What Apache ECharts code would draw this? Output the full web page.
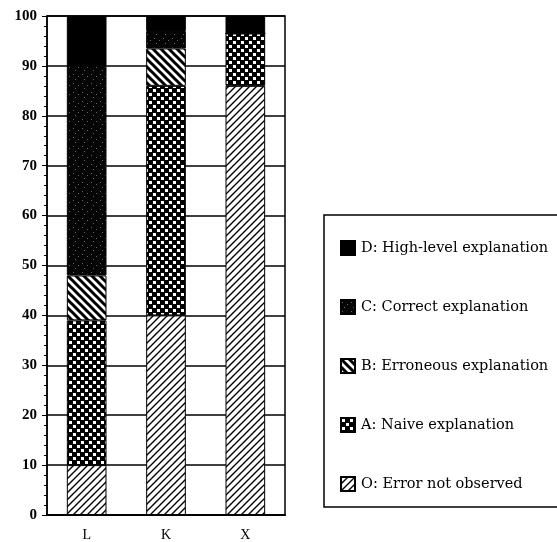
<!DOCTYPE html>
<html>
<head>
<meta charset="utf-8">
<script src="https://cdn.jsdelivr.net/npm/echarts@6/dist/echarts.min.js"></script>
<style>
  html, body { margin: 0; padding: 0; background: #fff; }
  #main { width: 557px; height: 542px; }
</style>
</head>
<body>
<div id="main"></div>
<script>
// categorias y porcentajes
var categories = ['L', 'K', 'X'];
var errNotObserved = [10, 40, 86];
var naive = [29, 46, 10.5];
var erroneous = [9, 7.5, 0];
var correct = [42, 3.5, 0];
var highLevel = [10, 3, 3.5];

var myChart = echarts.init(document.getElementById('main'));

// tramas en blanco y negro
function tile(size, draw) {
  var c = document.createElement('canvas');
  c.width = size;
  c.height = size;
  var ctx = c.getContext('2d');
  draw(ctx, size);
  return { image: c, repeat: 'repeat' };
}

var patO = tile(7, function (ctx, s) {
  ctx.fillStyle = '#fff';
  ctx.fillRect(0, 0, s, s);
  ctx.strokeStyle = '#000';
  ctx.lineWidth = 1.4;
  ctx.beginPath();
  ctx.moveTo(-1, s + 1); ctx.lineTo(s + 1, -1);
  ctx.moveTo(-1, 1); ctx.lineTo(1, -1);
  ctx.moveTo(s - 1, s + 1); ctx.lineTo(s + 1, s - 1);
  ctx.stroke();
});

var patA = tile(8, function (ctx, s) {
  ctx.fillStyle = '#000';
  ctx.fillRect(0, 0, s, s);
  ctx.fillStyle = '#fff';
  ctx.fillRect(1, 1, 3, 3);
  ctx.fillRect(5, 5, 3, 3);
});

var patB = tile(8, function (ctx, s) {
  ctx.fillStyle = '#fff';
  ctx.fillRect(0, 0, s, s);
  ctx.strokeStyle = '#000';
  ctx.lineWidth = 3;
  ctx.beginPath();
  ctx.moveTo(-1, -1); ctx.lineTo(s + 1, s + 1);
  ctx.moveTo(-2, s - 2); ctx.lineTo(2, s + 2);
  ctx.moveTo(s - 2, -2); ctx.lineTo(s + 2, 2);
  ctx.stroke();
});

var patC = tile(9, function (ctx, s) {
  ctx.fillStyle = '#050505';
  ctx.fillRect(0, 0, s, s);
  ctx.fillStyle = '#666';
  ctx.fillRect(1, 2, 1, 1);
  ctx.fillRect(6, 4, 1, 1);
  ctx.fillRect(3, 7, 1, 1);
});

var font = '"Liberation Serif", "DejaVu Serif", serif';
var legendFont = '"DejaVu Serif", "Liberation Serif", serif';

function serie(name, data, color) {
  return {
    name: name,
    type: 'bar',
    stack: 'total',
    barWidth: '50%',
    data: data,
    itemStyle: {
      color: color,
      borderColor: '#000',
      borderWidth: 1
    }
  };
}

var option = {
  backgroundColor: '#fff',
  animation: false,
  grid: {
    left: 47,
    right: 272,
    top: 16,
    bottom: 21,
    show: true,
    borderColor: '#000',
    borderWidth: 1.5,
    backgroundColor: '#fff'
  },
  legend: {
    orient: 'vertical',
    left: 324,
    top: 215,
    padding: [25, 40, 15, 16],
    itemGap: 43,
    itemWidth: 14,
    itemHeight: 14,
    borderColor: '#000',
    borderWidth: 1.5,
    icon: 'rect',
    textStyle: { fontFamily: legendFont, fontSize: 14.5, color: '#000', padding: [0, 0, 0, 1] },
    data: [
      'D: High-level explanation',
      'C: Correct explanation',
      'B: Erroneous explanation',
      'A: Naive explanation',
      'O: Error not observed'
    ]
  },
  xAxis: {
    type: 'category',
    data: categories,
    axisLine: { lineStyle: { color: '#000', width: 2 } },
    axisTick: { show: false },
    axisLabel: { fontFamily: font, fontSize: 14, color: '#000', margin: 13 }
  },
  yAxis: {
    type: 'value',
    min: 0,
    max: 100,
    interval: 10,
    axisLine: { show: true, lineStyle: { color: '#000', width: 1.5 } },
    axisTick: { show: true, length: 5, lineStyle: { color: '#000' } },
    minorTick: { show: true, splitNumber: 5, length: 3, lineStyle: { color: '#000' } },
    splitLine: { show: true, lineStyle: { color: '#000', width: 1.5 } },
    axisLabel: { fontFamily: font, fontSize: 15, fontWeight: 'bold', color: '#000', margin: 10 }
  },
  series: [
    serie('O: Error not observed', errNotObserved, patO),
    serie('A: Naive explanation', naive, patA),
    serie('B: Erroneous explanation', erroneous, patB),
    serie('C: Correct explanation', correct, patC),
    serie('D: High-level explanation', highLevel, '#000')
  ]
};

option && myChart.setOption(option);
</script>
</body>
</html>
